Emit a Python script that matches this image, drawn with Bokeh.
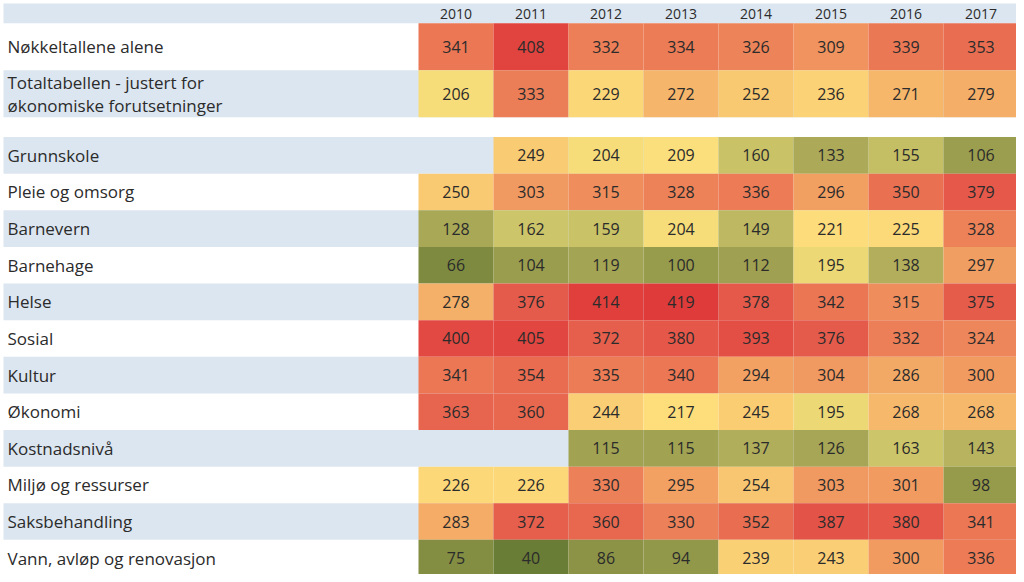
import numpy as np
from bokeh.plotting import figure
from bokeh.models import ColumnDataSource, Range1d, LinearColorMapper
from bokeh.core.properties import value
from bokeh.embed import file_html
from bokeh.resources import INLINE

years = ["2010", "2011", "2012", "2013", "2014", "2015", "2016", "2017"]

top_labels = ["Nøkkeltallene alene",
              "Totaltabellen - justert for\nøkonomiske forutsetninger"]
top_values = [
    [341, 408, 332, 334, 326, 309, 339, 353],
    [206, 333, 229, 272, 252, 236, 271, 279],
]

labels = ["Grunnskole", "Pleie og omsorg", "Barnevern", "Barnehage", "Helse",
          "Sosial", "Kultur", "Økonomi", "Kostnadsnivå", "Miljø og ressurser",
          "Saksbehandling", "Vann, avløp og renovasjon"]
values = [
    [None, 249, 204, 209, 160, 133, 155, 106],
    [250, 303, 315, 328, 336, 296, 350, 379],
    [128, 162, 159, 204, 149, 221, 225, 328],
    [66, 104, 119, 100, 112, 195, 138, 297],
    [278, 376, 414, 419, 378, 342, 315, 375],
    [400, 405, 372, 380, 393, 376, 332, 324],
    [341, 354, 335, 340, 294, 304, 286, 300],
    [363, 360, 244, 217, 245, 195, 268, 268],
    [None, None, 115, 115, 137, 126, 163, 143],
    [226, 226, 330, 295, 254, 303, 301, 98],
    [283, 372, 360, 330, 352, 387, 380, 341],
    [75, 40, 86, 94, 239, 243, 300, 336],
]

# ---- colour scale (green - yellow - red) ----
stops = [(40, "#6a7d36"), (100, "#979b4c"), (135, "#aeab5a"), (165, "#cfc86a"),
         (212, "#fee17d"), (250, "#f9ca72"), (300, "#f19c61"), (340, "#eb7855"),
         (380, "#e5584a"), (420, "#df3b3a")]
lo, hi = 40, 420
sv = np.array([s[0] for s in stops], float)
rgb = np.array([[int(c[i:i + 2], 16) for i in (1, 3, 5)] for _, c in stops], float)
grid = np.linspace(lo, hi, 256)
palette = ["#%02x%02x%02x" % tuple(int(round(np.interp(g, sv, rgb[:, k]))) for k in range(3))
           for g in grid]
mapper = LinearColorMapper(palette=palette, low=lo, high=hi)

# ---- layout (units ~ pixels) ----
X0, X1 = 3, 1020
LABEL_W = 415
COL_W = 75
HEAD_H = 20
TOP_H = 47.5
GAP = 20
ROW_H = 37
BAND = "#dce6f0"
TXT = "#2b2b2b"
FONT = value("Open Sans")

p = figure(width=1016, height=574, output_backend="svg", toolbar_location=None,
           x_range=Range1d(0, 1016), y_range=Range1d(580, 0),
           min_border=0, outline_line_color=None)
p.axis.visible = False
p.grid.visible = False
p.background_fill_color = "white"

col_x = [X0 + LABEL_W + (i + 0.5) * COL_W for i in range(len(years))]

# header band
p.quad(left=[X0], right=[X1], top=[X0], bottom=[X0 + HEAD_H], fill_color=BAND, line_color=None)
p.text(x=col_x, y=[X0 + HEAD_H / 2 + 1] * len(years), text=years, text_font=FONT,
       text_font_size="14px", text_color=TXT, text_align="center", text_baseline="middle")

# rows
row_specs = []  # (label, vals, top, height, band)
y = X0 + HEAD_H
for i, (lab, vals) in enumerate(zip(top_labels, top_values)):
    row_specs.append((lab, vals, y, TOP_H, i % 2 == 1))
    y += TOP_H
y += GAP
for i, (lab, vals) in enumerate(zip(labels, values)):
    row_specs.append((lab, vals, y, ROW_H, i % 2 == 0))
    y += ROW_H

band_src = dict(left=[], right=[], top=[], bottom=[])
lab_src = dict(x=[], y=[], text=[])
cell = dict(left=[], right=[], top=[], bottom=[], v=[], x=[], y=[], t=[])
for lab, vals, top, h, band in row_specs:
    if band:
        band_src["left"].append(X0); band_src["right"].append(X1)
        band_src["top"].append(top); band_src["bottom"].append(top + h)
    lab_src["x"].append(X0 + 4)
    lab_src["y"].append(top + h / 2)
    lab_src["text"].append(lab)
    for j, v in enumerate(vals):
        if v is None:
            continue
        cell["left"].append(col_x[j] - COL_W / 2)
        cell["right"].append(col_x[j] + COL_W / 2)
        cell["top"].append(top)
        cell["bottom"].append(top + h)
        cell["v"].append(v)
        cell["x"].append(col_x[j])
        cell["y"].append(top + h / 2)
        cell["t"].append(str(v))

p.quad(source=ColumnDataSource(band_src), left="left", right="right", top="top",
       bottom="bottom", fill_color=BAND, line_color=None)
p.quad(source=ColumnDataSource(cell), left="left", right="right", top="top",
       bottom="bottom", fill_color={"field": "v", "transform": mapper}, line_color=None)
p.text(source=ColumnDataSource(cell), x="x", y="y", text="t", text_font=FONT,
       text_font_size="16px", text_color=TXT, text_align="center", text_baseline="middle")
p.text(source=ColumnDataSource(lab_src), x="x", y="y", text="text", text_font=FONT,
       text_font_size="17px", text_color=TXT, text_align="left", text_baseline="middle",
       text_line_height=1.0)

open("out.html", "w").write(file_html(p, INLINE))
